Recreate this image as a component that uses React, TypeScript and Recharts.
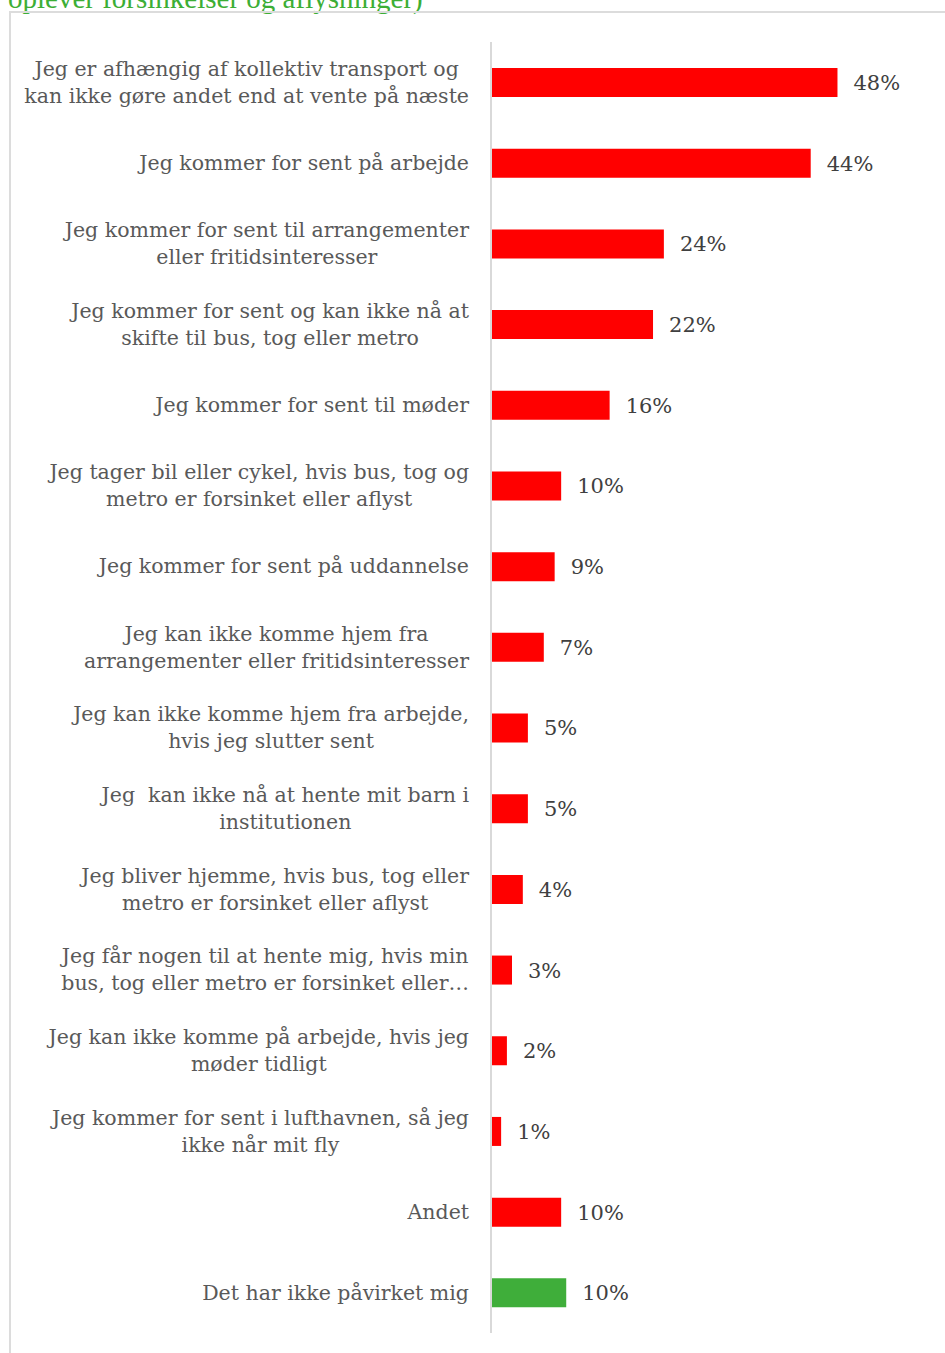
import React from "react";
import { BarChart, Bar, XAxis, YAxis, Cell, LabelList } from "recharts";

const categories: string[] = [
  "Jeg er afhængig af kollektiv transport og\nkan ikke gøre andet end at vente på næste",
  "Jeg kommer for sent på arbejde",
  "Jeg kommer for sent til arrangementer\neller fritidsinteresser",
  "Jeg kommer for sent og kan ikke nå at\nskifte til bus, tog eller metro",
  "Jeg kommer for sent til møder",
  "Jeg tager bil eller cykel, hvis bus, tog og\nmetro er forsinket eller aflyst",
  "Jeg kommer for sent på uddannelse",
  "Jeg kan ikke komme hjem fra\narrangementer eller fritidsinteresser",
  "Jeg kan ikke komme hjem fra arbejde,\nhvis jeg slutter sent",
  "Jeg  kan ikke nå at hente mit barn i\ninstitutionen",
  "Jeg bliver hjemme, hvis bus, tog eller\nmetro er forsinket eller aflyst",
  "Jeg får nogen til at hente mig, hvis min\nbus, tog eller metro er forsinket eller…",
  "Jeg kan ikke komme på arbejde, hvis jeg\nmøder tidligt",
  "Jeg kommer for sent i lufthavnen, så jeg\nikke når mit fly",
  "Andet",
  "Det har ikke påvirket mig",
];

const values: number[] = [47.9, 44.2, 23.9, 22.4, 16.4, 9.7, 8.8, 7.3, 5.1, 5.1, 4.4, 2.9, 2.2, 1.4, 9.7, 10.4];

const title = "oplever forsinkelser og aflysninger)";

const RED = "#ff0000";
const GREEN = "#3fae3a";
const FONT = "'DejaVu Serif', serif";
const LABEL_FS = 20.5;
const LINE_H = 27;

const data = categories.map((label, i) => ({ label, value: values[i] }));

let ctx: CanvasRenderingContext2D | null = null;
const measure = (s: string): number => {
  if (!ctx) {
    const c = document.createElement("canvas");
    ctx = c.getContext("2d");
  }
  if (!ctx) return s.length * LABEL_FS * 0.55;
  ctx.font = `${LABEL_FS}px 'DejaVu Serif'`;
  return ctx.measureText(s).width;
};

const CategoryTick = (props: any) => {
  const { x, y, payload } = props;
  const lines: string[] = String(payload.value).split("\n");
  const maxW = Math.max(...lines.map(measure));
  const cx = x - maxW / 2;
  const startY = y - ((lines.length - 1) * LINE_H) / 2;
  return (
    <g>
      {lines.map((ln, i) => (
        <text
          key={i}
          x={cx}
          y={startY + i * LINE_H}
          textAnchor="middle"
          dominantBaseline="central"
          fill="#595959"
          fontSize={LABEL_FS}
          fontFamily={FONT}
          style={{ whiteSpace: "pre" }}
          xmlSpace="preserve"
        >
          {ln}
        </text>
      ))}
    </g>
  );
};

export default function App() {
  return (
    <div
      style={{
        position: "absolute",
        left: 0,
        top: 0,
        width: 945,
        height: 1353,
        overflow: "hidden",
        background: "#ffffff",
      }}
    >
      <div
        style={{
          position: "absolute",
          left: 8,
          top: -17,
          fontFamily: "'Liberation Serif', serif",
          fontSize: 29,
          lineHeight: "30px",
          color: "#3cae35",
          whiteSpace: "nowrap",
        }}
      >
        {title}
      </div>
      <div
        style={{
          position: "absolute",
          left: 9,
          top: 11,
          width: 940,
          height: 1350,
          borderLeft: "2px solid #dcdcdc",
          borderTop: "2px solid #dcdcdc",
        }}
      />
      <div style={{ position: "absolute", left: 0, top: 0 }}>
        <BarChart
          width={945}
          height={1353}
          data={data}
          layout="vertical"
          margin={{ top: 42, right: 20, bottom: 20, left: 0 }}
        >
          <XAxis type="number" domain={[0, 60]} hide />
          <YAxis
            type="category"
            dataKey="label"
            width={491}
            tickSize={0}
            tickMargin={22}
            tickLine={false}
            axisLine={{ stroke: "#d9d9d9", strokeWidth: 2 }}
            tick={<CategoryTick />}
            interval={0}
          />
          <Bar dataKey="value" barSize={29} isAnimationActive={false}>
            {data.map((_, i) => (
              <Cell key={i} fill={i === data.length - 1 ? GREEN : RED} />
            ))}
            <LabelList
              dataKey="value"
              position="right"
              offset={16}
              formatter={(v: any) => `${Math.round(Number(v))}%`}
              fill="#404040"
              fontSize={21}
              fontFamily={FONT}
            />
          </Bar>
        </BarChart>
      </div>
    </div>
  );
}
